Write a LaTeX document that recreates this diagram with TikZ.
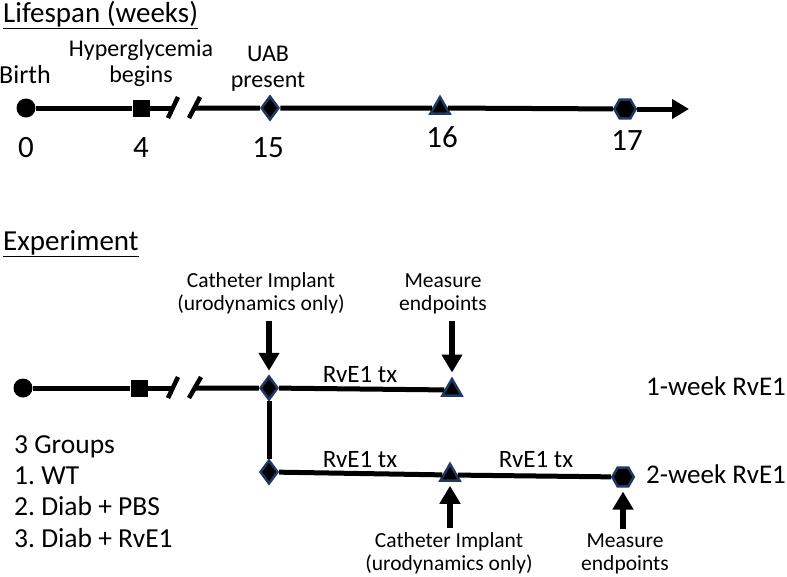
\documentclass[tikz,border=0pt]{standalone}
\usepackage{fontspec}
\setmainfont{Carlito}
\usepackage{xcolor}
\usepackage{tikz}
\usetikzlibrary{arrows.meta,positioning,calc}
\usetikzlibrary{shapes.geometric}
\definecolor{navy}{RGB}{31,56,100}
\frenchspacing

\tikzset{
  tl/.style={line width=5pt},
  brkmark/.style={line width=4.5pt},
  arr/.style={line width=6.5pt,-{Triangle[length=18pt,width=20pt]}},
  dot/.style={circle,fill=black,minimum size=19pt,inner sep=0pt},
  sq/.style={rectangle,fill=black,minimum size=17pt,inner sep=0pt},
  dmd/.style={diamond,fill=black,draw=navy,line width=2.5pt,minimum width=18pt,minimum height=24pt,inner sep=0pt},
  tri/.style={regular polygon,regular polygon sides=3,fill=black,draw=navy,line width=2.5pt,minimum size=22pt,inner sep=0pt},
  hexa/.style={regular polygon,regular polygon sides=6,fill=black,draw=navy,line width=2.5pt,minimum size=21.5pt,inner sep=0pt},
  lbl/.style={inner sep=0pt,anchor=base,align=center,font=\fontsize{21.5}{23}\selectfont},
  toplbl/.style={lbl,font=\fontsize{24}{26}\selectfont},
  txlbl/.style={lbl,font=\fontsize{25}{27}\selectfont},
  num/.style={inner sep=0pt,anchor=base,font=\fontsize{31}{34}\selectfont},
  ttl/.style={inner sep=0pt,anchor=base west,font=\fontsize{29}{34}\selectfont},
  grp/.style={inner sep=0pt,anchor=base west,font=\fontsize{27.5}{31.3}\selectfont}
}

\begin{document}
\begin{tikzpicture}[x=1pt,y=-1pt]
	\useasboundingbox (0,0) rectangle (787,576);
	% lifespan
	\node[ttl] (lifespan) at (3,22) {\underline{Lifespan (weeks)}};
	\node[dot] (w0) at (26,108) {};
	\node[sq] (w4) at (141,108) {};
	\coordinate (brkA) at (173,108);
	\coordinate (brkB) at (194,108);
	\node[dmd] (w15) at (270,108) {};
	\node[tri] (w16) at (440,108) {};
	\node[hexa] (w17) at (625,109) {};
	\coordinate (tipA) at (689,109);
	\draw[tl] (w0) -- (w4) -- (brkA);
	\draw[tl] (brkB) -- (w15) -- (w16) -- (w17);
	\draw[tl,-{Triangle[length=17pt,width=19pt]}] (w17) -- (tipA);
	\draw[brkmark] ([shift={(-5,10)}]brkA) -- ([shift={(5,-11)}]brkA);
	\draw[brkmark] ([shift={(-5,10)}]brkB) -- ([shift={(6,-11)}]brkB);
	\node[lbl,font=\fontsize{26}{28}\selectfont] (birth) at (25,83) {Birth};
	\node[toplbl] (hyper) at (141,82) {Hyperglycemia\\begins};
	\node[toplbl] (uab) at (268,87) {UAB\\present};
	\node[num] (n0) at (26,157) {0};
	\node[num] (n4) at (141,157) {4};
	\node[num] (n15) at (268,157) {15};
	\node[num] (n16) at (442,147) {16};
	\node[num] (n17) at (627,150) {17};
	% experiment
	\node[ttl] (experiment) at (3,250) {\underline{Experiment}};
	\node[dot] (e0) at (23,388) {};
	\node[sq] (e4) at (139,388) {};
	\coordinate (brkC) at (173,388);
	\coordinate (brkD) at (195,388);
	\node[dmd] (e15) at (269,388) {};
	\node[tri] (e16) at (452,390) {};
	\node[dmd] (f15) at (269,472) {};
	\node[tri] (f16) at (450,475) {};
	\node[hexa] (f17) at (623,477) {};
	\draw[tl] (e0) -- (e4) -- (brkC);
	\draw[tl] (brkD) -- (e15) -- (e16);
	\draw[tl] (e15) -- (f15);
	\draw[tl] (f15) -- (f16) -- (f17);
	\draw[brkmark] ([shift={(-5,10)}]brkC) -- ([shift={(5,-11)}]brkC);
	\draw[brkmark] ([shift={(-6,10)}]brkD) -- ([shift={(6,-11)}]brkD);
	\node[lbl] (cathA) at (261,310) {Catheter Implant\\(urodynamics only)};
	\node[lbl] (measA) at (443,310) {Measure\\endpoints};
	\node[lbl] (cathB) at (449,570) {Catheter Implant\\(urodynamics only)};
	\node[lbl] (measB) at (625,570) {Measure\\endpoints};
	\draw[arr,shorten <=7pt,shorten >=4pt] (cathA.south -| e15) -- (e15.north);
	\draw[arr,shorten <=7pt,shorten >=4pt] (measA.south -| e16) -- (e16.north);
	\draw[arr,shorten <=4pt,shorten >=4pt] (cathB.north -| f16) -- (f16.south);
	\draw[arr,shorten <=4pt,shorten >=4pt] (measB.north -| f17) -- (f17.south);
	\node[txlbl] (txA) at (360,382) {RvE1 tx};
	\node[txlbl] (txB) at (360,467) {RvE1 tx};
	\node[txlbl] (txC) at (536,467) {RvE1 tx};
	\node[grp,font=\fontsize{27}{31}\selectfont] (oneweek) at (646,395) {1-week RvE1};
	\node[grp,font=\fontsize{27}{31}\selectfont] (twoweek) at (646,483) {2-week RvE1};
	\node[grp,align=left] (groups) at (14,547) {3 Groups\\1. WT\\2. Diab + PBS\\3. Diab + RvE1};
\end{tikzpicture}
\end{document}
